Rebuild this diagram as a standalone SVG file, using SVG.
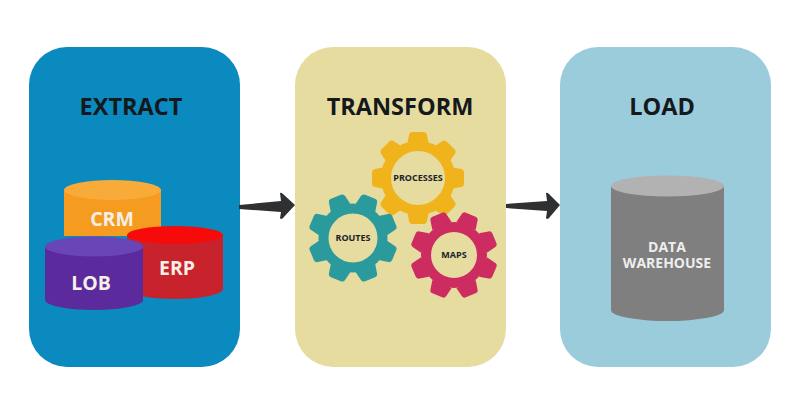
<svg xmlns="http://www.w3.org/2000/svg" width="800" height="400" viewBox="0 0 800 400">
<style>
text{font-family:"Open Sans","Liberation Sans",sans-serif;font-weight:700;text-anchor:middle}
.title{font-size:23.500px;fill:#15181c}
.db{font-size:19.500px;fill:#f6efe6}
.gl{font-size:9px;fill:#20222a}
.dw{font-size:14px;fill:#eeeeee}
.ring{fill:none}
</style>
<defs>
<path id="tooth" d="M-11 -33L-9 -43Q-8.500 -46 -5.500 -46H5.500Q8.500 -46 9 -43L11 -33Z"/>
<g id="teeth">
<use href="#tooth"/>
<use href="#tooth" transform="rotate(45)"/>
<use href="#tooth" transform="rotate(90)"/>
<use href="#tooth" transform="rotate(135)"/>
<use href="#tooth" transform="rotate(180)"/>
<use href="#tooth" transform="rotate(225)"/>
<use href="#tooth" transform="rotate(270)"/>
<use href="#tooth" transform="rotate(315)"/>
</g>
</defs>
<rect width="800" height="400" fill="#ffffff"/>
<g id="extract">
<rect x="29" y="47" width="211" height="320" rx="38" fill="#0a8abf"/>
<text class="title" x="131" y="115">EXTRACT</text>
</g>
<g id="transform">
<rect x="295" y="47" width="211" height="320" rx="38" fill="#e6dc9f"/>
<text class="title" x="400" y="115">TRANSFORM</text>
</g>
<g id="load">
<rect x="560" y="47" width="211" height="320" rx="38" fill="#9bccdb"/>
<text class="title" x="662" y="115">LOAD</text>
</g>
<g id="crm">
<path d="M64 190V236H161V190Z" fill="#f59b20"/>
<ellipse cx="112.500" cy="190" rx="48.500" ry="10" fill="#f8ab38"/>
<text class="db" x="112" y="226">CRM</text>
</g>
<g id="erp">
<path d="M127 235V289A48 10 0 0 0 223 289V235Z" fill="#c8232c"/>
<ellipse cx="175" cy="235" rx="48" ry="9" fill="#f70a0a"/>
<text class="db" x="177" y="275">ERP</text>
</g>
<g id="lob">
<path d="M45 246.500V300A49 10 0 0 0 143 300V246.500Z" fill="#5b2a9c"/>
<ellipse cx="94" cy="246.500" rx="49" ry="10" fill="#6a45b8"/>
<text class="db" x="91" y="290">LOB</text>
</g>
<g id="processes" fill="#f0b31c">
<use href="#teeth" transform="translate(418 178)"/>
<circle class="ring" cx="418" cy="178" r="32" stroke="#f0b31c" stroke-width="10"/>
<text class="gl" x="418" y="181">PROCESSES</text>
</g>
<g id="routes" fill="#2b9a9c">
<use href="#teeth" transform="translate(353 238) rotate(22.500) scale(.97)"/>
<circle class="ring" cx="353" cy="238" r="29.500" stroke="#2b9a9c" stroke-width="10"/>
<text class="gl" x="353" y="241">ROUTES</text>
</g>
<g id="maps" fill="#cd2c60">
<use href="#teeth" transform="translate(454 255) rotate(22.500) scale(.95)"/>
<circle class="ring" cx="454" cy="255" r="28" stroke="#cd2c60" stroke-width="10"/>
<text class="gl" x="454" y="258">MAPS</text>
</g>
<g id="warehouse">
<path d="M611 186V310A56.500 11 0 0 0 724 310V186Z" fill="#7f7f7f"/>
<ellipse cx="667.500" cy="186" rx="56.500" ry="10.500" fill="#b2b2b2"/>
<text class="dw"><tspan x="667" y="252">DATA</tspan><tspan x="667" y="268">WAREHOUSE</tspan></text>
</g>
<g id="connectors" fill="#2e3032">
<path d="M239 205L281 201L280 193Q281 192 283 194L295 205L283 218Q281 220 280 218L281 212L239 209Z"/>
<path d="M506 204L547 201L546 193Q547 192 549 194L560 205L549 218Q547 220 546 218L547 211L506 208Z"/>
</g>
</svg>
